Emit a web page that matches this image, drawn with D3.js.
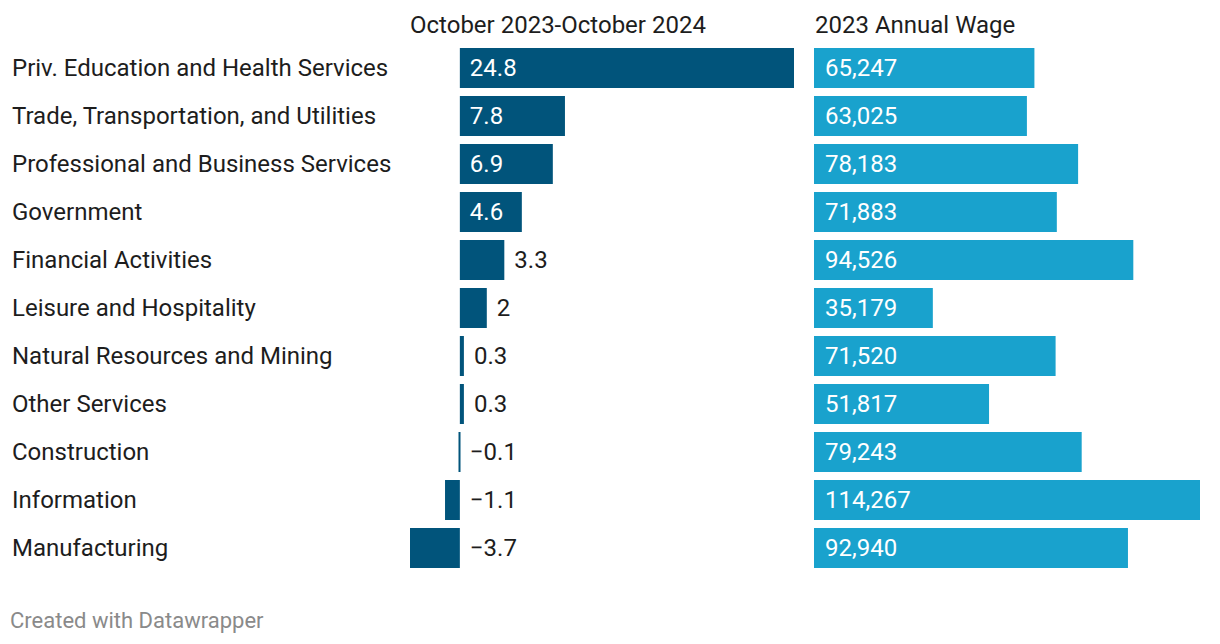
<!DOCTYPE html>
<html><head><meta charset="utf-8">
<script src="https://cdn.jsdelivr.net/npm/d3@7"></script>
<style>
html,body{margin:0;padding:0;background:#fff;}
svg text{font-family:Roboto,sans-serif;}
</style></head>
<body><svg id="c" width="1220" height="644"></svg>
<script>
const categories = ["Priv. Education and Health Services","Trade, Transportation, and Utilities","Professional and Business Services","Government","Financial Activities","Leisure and Hospitality","Natural Resources and Mining","Other Services","Construction","Information","Manufacturing"];
const change = [24.8,7.8,6.9,4.6,3.3,2,0.3,0.3,-0.1,-1.1,-3.7];
const wage = [65247,63025,78183,71883,94526,35179,71520,51817,79243,114267,92940];
const headers = ["October 2023-October 2024","2023 Annual Wage"];
const footer = "Created with Datawrapper";

const svg = d3.select("#c");
const yPos = d => 48 + 48*categories.indexOf(d);
const bh = 40;
const fs = 24;

const x1 = d3.scaleLinear().domain([d3.min(change), d3.max(change)]).range([410, 794]);
const x2 = d3.scaleLinear().domain([0, d3.max(wage)]).range([814, 1200]);
const dark = "#01547b", light = "#19a2cd";

svg.selectAll("text.cat").data(categories).enter().append("text")
  .attr("x", 12).attr("y", d => yPos(d)+bh/2).attr("dy","0.34em")
  .attr("font-size", fs).attr("fill","#1d1d1d").text(d=>d);

svg.append("text").attr("x",410).attr("y",33).attr("font-size",fs).attr("fill","#1d1d1d").text(headers[0]);
svg.append("text").attr("x",815).attr("y",33).attr("font-size",fs).attr("fill","#1d1d1d").text(headers[1]);

const fmt1 = v => (v<0 ? "\u2212" : "") + d3.format("")(Math.abs(v));
change.forEach((v,i)=>{
  const c = categories[i];
  const x0 = x1(0), xe = x1(v);
  const w = Math.max(Math.abs(xe-x0), 2);
  svg.append("rect").attr("x", Math.min(x0,xe)).attr("y", yPos(c)).attr("width", w).attr("height", bh).attr("fill", dark);
  const label = fmt1(v);
  const inside = v > 4;
  svg.append("text").attr("x", inside ? x0+10 : (v>=0 ? x0+w+10 : x0+10))
    .attr("y", yPos(c)+bh/2).attr("dy","0.34em").attr("font-size",fs)
    .attr("fill", inside ? "#fff" : "#1d1d1d").text(label);
});
const fmt2 = d3.format(",");
wage.forEach((v,i)=>{
  const c = categories[i];
  svg.append("rect").attr("x", x2(0)).attr("y", yPos(c)).attr("width", x2(v)-x2(0)).attr("height", bh).attr("fill", light);
  svg.append("text").attr("x", x2(0)+11).attr("y", yPos(c)+bh/2).attr("dy","0.34em").attr("font-size",fs)
    .attr("fill","#fff").text(fmt2(v));
});
svg.append("text").attr("x",10).attr("y",628).attr("font-size",22).attr("fill","#8a8a8a").text(footer);
</script></body></html>
